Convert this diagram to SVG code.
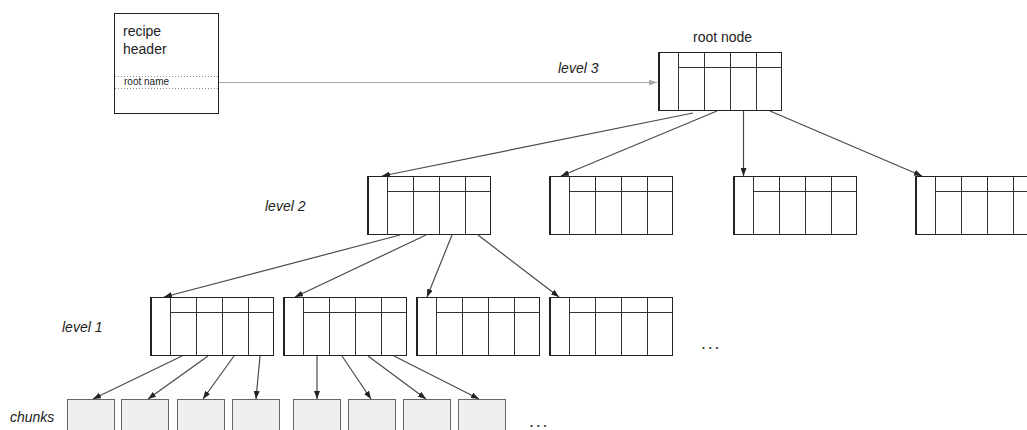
<svg xmlns="http://www.w3.org/2000/svg" width="1027" height="430" viewBox="0 0 1027 430">
  <style>
    .lbl { font-family: "Liberation Sans", Arial, sans-serif; font-size: 14px; fill: #222; }
    .it { font-style: italic; }
    .small { font-size: 10px; }
    .dots { font-family: "Liberation Sans", Arial, sans-serif; font-size: 18px; letter-spacing: 1.8px; fill: #333; }
    .frame { fill: #fff; stroke: #222; stroke-width: 1; }
    .div { stroke: #333; stroke-width: 1; fill: none; }
    .edge { stroke: #222; stroke-width: 2; }
    .chunk { fill: #efefef; stroke: #666; stroke-width: 1; }
    .conn { stroke: #4a4a4a; stroke-width: 1.2; fill: none; marker-end: url(#arrow); }
    .ref { stroke: #a8a8a8; stroke-width: 1.2; fill: none; marker-end: url(#arrowLight); }
    .dotted { stroke: #888; stroke-width: 1; stroke-dasharray: 1 2; fill: none; }
  </style>
  <defs>
    <marker id="arrow" viewBox="0 0 8 6" refX="8" refY="3" markerWidth="8" markerHeight="6" markerUnits="userSpaceOnUse" orient="auto">
      <path d="M0,0 L8,3 L0,6 z" fill="#222"/>
    </marker>
    <marker id="arrowLight" viewBox="0 0 8 6" refX="8" refY="3" markerWidth="8" markerHeight="6" markerUnits="userSpaceOnUse" orient="auto">
      <path d="M0,0 L8,3 L0,6 z" fill="#a8a8a8"/>
    </marker>
    <!-- one B-tree node: pointer column on the left, four key/child slots -->
    <g id="btnode">
      <rect class="frame" x="0.5" y="0.5" width="123" height="58"/>
      <line class="div" x1="20.5" y1="0.5" x2="20.5" y2="58.5"/>
      <line class="div" x1="46.5" y1="0.5" x2="46.5" y2="58.5"/>
      <line class="div" x1="72.5" y1="0.5" x2="72.5" y2="58.5"/>
      <line class="div" x1="98.5" y1="0.5" x2="98.5" y2="58.5"/>
      <line class="div" x1="20.5" y1="15.5" x2="123.5" y2="15.5"/>
      <line class="edge" x1="1" y1="0" x2="1" y2="59"/>
    </g>
  </defs>

  <!-- recipe header -->
  <g id="recipe-header">
    <rect class="frame" x="114.5" y="13.5" width="104" height="100"/>
    <line class="dotted" x1="115" y1="76.5" x2="220" y2="76.5"/>
    <line class="dotted" x1="115" y1="88.5" x2="220" y2="88.5"/>
    <text class="lbl" x="123" y="36">recipe</text>
    <text class="lbl" x="123" y="54">header</text>
    <text class="lbl small" x="124" y="85">root name</text>
  </g>

  <!-- labels -->
  <g id="labels">
    <text class="lbl" x="693" y="42">root node</text>
    <text class="lbl it" x="558" y="73">level 3</text>
    <text class="lbl it" x="265" y="211">level 2</text>
    <text class="lbl it" x="62" y="332">level 1</text>
    <text class="lbl it" x="10" y="422">chunks</text>
    <text class="dots" x="701" y="349">...</text>
    <text class="dots" x="529" y="427">...</text>
  </g>

  <!-- level 3 -->
  <g id="root-node"><use href="#btnode" x="658" y="52"/></g>

  <!-- level 2 -->
  <g id="l2-a"><use href="#btnode" x="367" y="176"/></g>
  <g id="l2-b"><use href="#btnode" x="549" y="176"/></g>
  <g id="l2-c"><use href="#btnode" x="733" y="176"/></g>
  <g id="l2-d"><use href="#btnode" x="915" y="176"/></g>

  <!-- level 1 -->
  <g id="l1-a"><use href="#btnode" x="150" y="297"/></g>
  <g id="l1-b"><use href="#btnode" x="283" y="297"/></g>
  <g id="l1-c"><use href="#btnode" x="416" y="297"/></g>
  <g id="l1-d"><use href="#btnode" x="549" y="297"/></g>

  <!-- data chunks -->
  <g id="chunk-1"><rect class="chunk" x="67.5" y="399.5" width="47" height="40"/></g>
  <g id="chunk-2"><rect class="chunk" x="121.5" y="399.5" width="47" height="40"/></g>
  <g id="chunk-3"><rect class="chunk" x="177.5" y="399.5" width="47" height="40"/></g>
  <g id="chunk-4"><rect class="chunk" x="232.5" y="399.5" width="47" height="40"/></g>
  <g id="chunk-5"><rect class="chunk" x="293.5" y="399.5" width="47" height="40"/></g>
  <g id="chunk-6"><rect class="chunk" x="348.5" y="399.5" width="47" height="40"/></g>
  <g id="chunk-7"><rect class="chunk" x="403.5" y="399.5" width="47" height="40"/></g>
  <g id="chunk-8"><rect class="chunk" x="458.5" y="399.5" width="47" height="40"/></g>

  <!-- connectors -->
  <g id="connectors">
    <line class="ref" x1="219" y1="82.5" x2="657" y2="82.5"/>

    <line class="conn" x1="693" y1="113" x2="382" y2="176"/>
    <line class="conn" x1="717" y1="111" x2="561" y2="176"/>
    <line class="conn" x1="743.5" y1="111" x2="743.5" y2="176"/>
    <line class="conn" x1="770" y1="111" x2="922" y2="176"/>

    <line class="conn" x1="400" y1="235" x2="164" y2="297"/>
    <line class="conn" x1="426" y1="235" x2="295" y2="297"/>
    <line class="conn" x1="452" y1="235" x2="427" y2="297"/>
    <line class="conn" x1="478" y1="235" x2="559" y2="297"/>

    <line class="conn" x1="182" y1="356" x2="93" y2="399"/>
    <line class="conn" x1="208" y1="356" x2="148" y2="399"/>
    <line class="conn" x1="234" y1="356" x2="203" y2="399"/>
    <line class="conn" x1="260" y1="356" x2="256" y2="399"/>

    <line class="conn" x1="317" y1="356" x2="317" y2="399"/>
    <line class="conn" x1="342" y1="356" x2="371" y2="399"/>
    <line class="conn" x1="368" y1="356" x2="426" y2="399"/>
    <line class="conn" x1="394" y1="356" x2="479" y2="399"/>
  </g>
</svg>
